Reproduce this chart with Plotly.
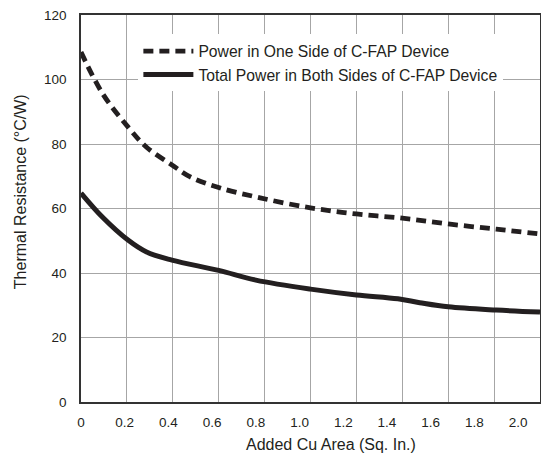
import plotly.graph_objects as go

x_one = [0, 0.1, 0.215, 0.3, 0.416, 0.5, 0.63, 0.82, 1.05, 1.26, 1.47, 1.68, 1.9, 2.1]
y_one = [108.5, 95.5, 85.3, 79.0, 73.5, 69.8, 66.5, 63.3, 60.2, 58.3, 57.0, 55.2, 53.6, 52.1]

x_both = [0, 0.1, 0.215, 0.3, 0.416, 0.63, 0.8, 1.05, 1.26, 1.45, 1.55, 1.68, 1.9, 2.1]
y_both = [64.8, 57.2, 50.2, 46.5, 44.0, 40.8, 37.8, 35.0, 33.2, 32.0, 30.8, 29.5, 28.5, 27.9]

name_one = "Power in One Side of C-FAP Device"
name_both = "Total Power in Both Sides of C-FAP Device"

x_ticks = [0, 0.2, 0.4, 0.6, 0.8, 1.0, 1.2, 1.4, 1.6, 1.8, 2.0]
x_labels = ["0", "0.2", "0.4", "0.6", "0.8", "1.0", "1.2", "1.4", "1.6", "1.8", "2.0"]
x_title = "Added Cu Area (Sq. In.)"
y_title = "Thermal Resistance (°C/W)"

FONT = "Liberation Sans, Arial"
INK = "#231f20"

fig = go.Figure()
fig.add_trace(go.Scatter(x=x_one, y=y_one, mode="lines", name=name_one,
                         line=dict(color=INK, width=4.8, dash="10px,6px", shape="spline")))
fig.add_trace(go.Scatter(x=x_both, y=y_both, mode="lines", name=name_both, xaxis="x2",
                         line=dict(color=INK, width=5, shape="spline")))

fig.update_layout(
    width=541, height=464,
    margin=dict(l=81, r=1, t=15, b=62, autoexpand=False),
    paper_bgcolor="white", plot_bgcolor="white",
    font=dict(family=FONT, color=INK, size=14),
    xaxis=dict(range=[0, 2.1], dtick=0.21, tick0=0, showgrid=True, gridcolor="#a6a6a6", gridwidth=1,
               showticklabels=False, ticks="", zeroline=False,
               showline=True, mirror=True, linecolor="#333", linewidth=1.5, automargin=False),
    xaxis2=dict(range=[0, 2.1], overlaying="x", anchor="y", side="bottom",
                tickvals=x_ticks, ticktext=x_labels, showgrid=False, zeroline=False,
                showline=False, ticks="outside", ticklen=8, tickcolor="rgba(0,0,0,0)",
                tickfont=dict(family=FONT, size=13.5), automargin=False),
    yaxis=dict(range=[0, 120], dtick=20, showgrid=True, gridcolor="#a6a6a6", gridwidth=1,
               zeroline=False, showline=True, mirror=True, linecolor="#333", linewidth=1.5,
               ticks="outside", ticklen=10, tickcolor="rgba(0,0,0,0)",
               tickfont=dict(family=FONT, size=13.5), automargin=False),
    legend=dict(x=0.125, y=0.95, xanchor="left", yanchor="top", bgcolor="white",
                borderwidth=0, font=dict(family=FONT, size=15.7), tracegroupgap=0,
                itemwidth=50),
    showlegend=True,
    annotations=[
        dict(text=x_title, xref="paper", yref="paper", x=0.545, y=-0.11,
             xanchor="center", yanchor="middle", showarrow=False,
             font=dict(family=FONT, size=16, color=INK)),
        dict(text=y_title, xref="paper", yref="paper", x=-0.13, y=0.543,
             xanchor="center", yanchor="middle", showarrow=False, textangle=-90,
             font=dict(family=FONT, size=16, color=INK)),
    ],
)

fig.write_html("out.html", post_script="document.body.style.margin='0';",
               config={"displayModeBar": False})
